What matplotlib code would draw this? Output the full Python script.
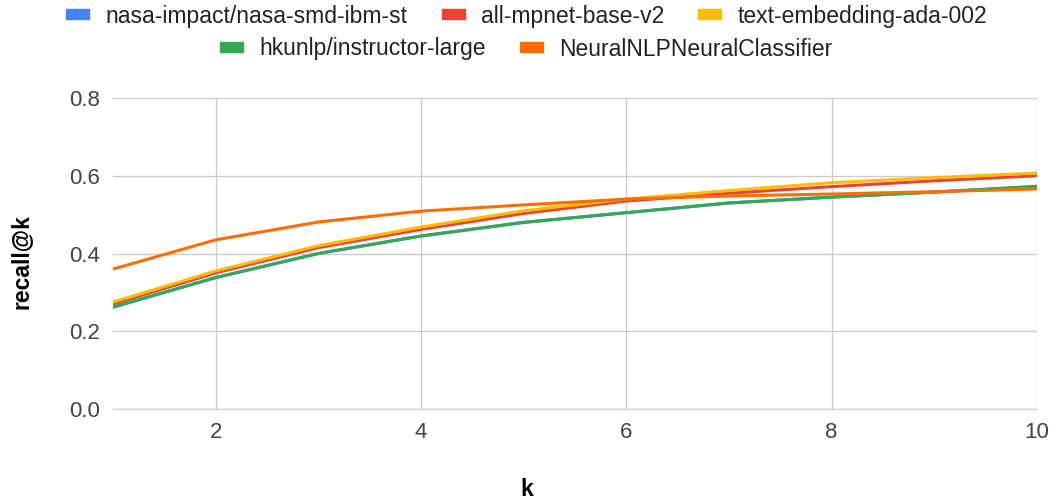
import matplotlib.pyplot as plt
from matplotlib.patches import Patch

plt.rcParams['font.family'] = ['Liberation Sans', 'DejaVu Sans']

k = [1, 2, 3, 4, 5, 6, 7, 8, 9, 10]
nasa = [0.262, 0.338, 0.400, 0.445, 0.480, 0.505, 0.530, 0.545, 0.558, 0.572]
mpnet = [0.270, 0.350, 0.415, 0.462, 0.503, 0.535, 0.555, 0.572, 0.587, 0.600]
ada = [0.275, 0.355, 0.420, 0.468, 0.510, 0.540, 0.562, 0.582, 0.595, 0.607]
instructor = [0.262, 0.338, 0.400, 0.445, 0.480, 0.505, 0.530, 0.545, 0.558, 0.573]
neural = [0.360, 0.435, 0.481, 0.509, 0.525, 0.540, 0.548, 0.553, 0.559, 0.566]

series = [
    ('nasa-impact/nasa-smd-ibm-st', nasa, '#4285F4'),
    ('all-mpnet-base-v2', mpnet, '#EA4335'),
    ('text-embedding-ada-002', ada, '#FBBC04'),
    ('hkunlp/instructor-large', instructor, '#34A853'),
    ('NeuralNLPNeuralClassifier', neural, '#FF6D01'),
]

fig = plt.figure(figsize=(10.53, 5.04), dpi=100)
ax = fig.add_axes([113 / 1053, 95 / 504, (1037 - 113) / 1053, (409 - 98) / 504])

for name, vals, color in series:
    ax.plot(k, vals, color=color, linewidth=2.2, solid_capstyle='butt')

ax.set_xlim(1, 10)
ax.set_ylim(0, 0.8)
ax.set_xticks([2, 4, 6, 8, 10])
ax.set_yticks([0.0, 0.2, 0.4, 0.6, 0.8])
ax.set_yticklabels(['0.0', '0.2', '0.4', '0.6', '0.8'])
ax.grid(True, color='#cccccc', linewidth=1)
ax.set_axisbelow(True)
for s in ['top', 'right', 'left']:
    ax.spines[s].set_visible(False)
ax.spines['bottom'].set_color('#cccccc')
ax.tick_params(length=0, labelsize=16, colors='#444444', pad=9)
ax.tick_params(axis='x', pad=9)

fig.text(0.5, 1 - 490 / 504, 'k', ha='center', va='center', fontsize=16.5, fontweight='bold')
fig.text(22 / 1053, 1 - 262 / 504, 'recall@k', ha='center', va='center', rotation=90,
         fontsize=16.5, fontweight='bold')

handles = [Patch(color=c, label=n) for n, v, c in series]
leg_kw = dict(frameon=False, fontsize=16.5, handlelength=1.0, handleheight=0.3,
              handletextpad=0.7, columnspacing=1.5, labelcolor='#222222')
fig.legend(handles=handles[:3], ncol=3, loc='center', bbox_to_anchor=(0.5, 1 - 16 / 504), **leg_kw)
fig.legend(handles=handles[3:], ncol=2, loc='center', bbox_to_anchor=(0.5, 1 - 49 / 504), **leg_kw)

fig.savefig('out.png', dpi=100)
